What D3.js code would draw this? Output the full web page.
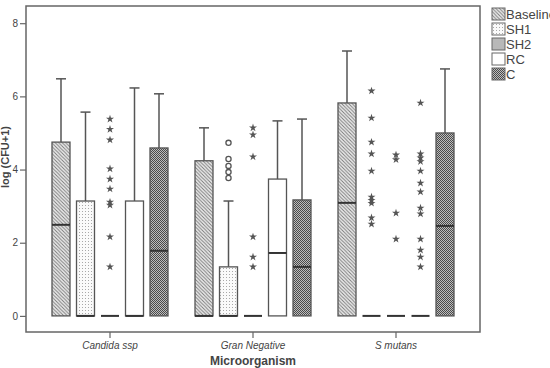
<!DOCTYPE html>
<html>
<head>
<meta charset="utf-8">
<script src="https://cdn.jsdelivr.net/npm/d3@7"></script>
<style>
  body { margin: 0; background: #fff; }
  text { font-family: "Liberation Sans", Arial, sans-serif; fill: #444; }
</style>
</head>
<body>
<div id="chart"></div>
<script>
// Categories and groups
const groups = ["Candida ssp", "Gran Negative", "S mutans"]
const series = ["Baseline", "SH1", "SH2", "RC", "C"]
const yTicks = [0, 2, 4, 6, 8]

// Box stats per group (order = series). Lower whisker and Q1 are all 0
const upperWhisker = [[6.48, 5.57, 0, 6.23, 6.07], [5.14, 3.14, 0, 5.33, 5.38], [7.24, 0, 0, 0, 6.75]]
const q3 = [[4.75, 3.14, 0, 3.14, 4.59], [4.24, 1.34, 0, 3.74, 3.17], [5.82, 0, 0, 0, 5.00]]
const medians = [[2.49, 0, 0, 0, 1.78], [0, 0, 0, 1.72, 1.34], [3.09, 0, 0, 0, 2.46]]
const q1 = [[0, 0, 0, 0, 0], [0, 0, 0, 0, 0], [0, 0, 0, 0, 0]]

// Outliers: [group, series, value] - stars are extreme, circles are mild
const starOutliers = [
  ["Candida ssp", "SH2", 5.38], ["Candida ssp", "SH2", 5.10], ["Candida ssp", "SH2", 4.81],
  ["Candida ssp", "SH2", 4.02], ["Candida ssp", "SH2", 3.74], ["Candida ssp", "SH2", 3.47],
  ["Candida ssp", "SH2", 3.11], ["Candida ssp", "SH2", 3.03], ["Candida ssp", "SH2", 2.16],
  ["Candida ssp", "SH2", 1.34],
  ["Gran Negative", "SH2", 5.14], ["Gran Negative", "SH2", 4.95], ["Gran Negative", "SH2", 4.35],
  ["Gran Negative", "SH2", 2.16], ["Gran Negative", "SH2", 1.61], ["Gran Negative", "SH2", 1.34],
  ["S mutans", "SH1", 6.15], ["S mutans", "SH1", 5.41], ["S mutans", "SH1", 4.75],
  ["S mutans", "SH1", 4.43], ["S mutans", "SH1", 3.96], ["S mutans", "SH1", 3.25],
  ["S mutans", "SH1", 3.16], ["S mutans", "SH1", 3.08], ["S mutans", "SH1", 2.68],
  ["S mutans", "SH1", 2.51],
  ["S mutans", "SH2", 4.40], ["S mutans", "SH2", 4.27], ["S mutans", "SH2", 2.81],
  ["S mutans", "SH2", 2.10],
  ["S mutans", "RC", 5.82], ["S mutans", "RC", 4.43], ["S mutans", "RC", 4.32],
  ["S mutans", "RC", 4.22], ["S mutans", "RC", 3.96], ["S mutans", "RC", 3.63],
  ["S mutans", "RC", 3.39], ["S mutans", "RC", 2.95], ["S mutans", "RC", 2.79],
  ["S mutans", "RC", 2.10], ["S mutans", "RC", 1.80], ["S mutans", "RC", 1.61],
  ["S mutans", "RC", 1.34]
]
const circleOutliers = [
  ["Gran Negative", "SH1", 4.73], ["Gran Negative", "SH1", 4.29], ["Gran Negative", "SH1", 4.10],
  ["Gran Negative", "SH1", 3.93], ["Gran Negative", "SH1", 3.77]
]

const width = 550, height = 368
const plot = {left: 26, right: 480, top: 6, bottom: 332}
const boxW = 18, capW = 10
const lineCol = "#555"

const svg = d3.select("#chart")
  .append("svg")
  .attr("width", width)
  .attr("height", height)

// ----------------- //
// Fill patterns
// ----------------- //
const defs = svg.append("defs")

const hatch = defs.append("pattern").attr("id", "p-Baseline")
  .attr("patternUnits", "userSpaceOnUse").attr("width", 3.5).attr("height", 3.5)
hatch.append("rect").attr("width", 3.5).attr("height", 3.5).attr("fill", "#ececec")
hatch.append("path").attr("d", "M-1,-1 L4.5,4.5 M-1,2.5 L1,4.5 M2.5,-1 L4.5,1")
  .attr("stroke", "#777").attr("stroke-width", 0.9)

const dots = defs.append("pattern").attr("id", "p-SH1")
  .attr("patternUnits", "userSpaceOnUse").attr("width", 3).attr("height", 3)
dots.append("rect").attr("width", 3).attr("height", 3).attr("fill", "#fafafa")
dots.append("rect").attr("x", 1).attr("y", 1).attr("width", 1).attr("height", 1).attr("fill", "#a8a8a8")

const solid = defs.append("pattern").attr("id", "p-SH2")
  .attr("patternUnits", "userSpaceOnUse").attr("width", 4).attr("height", 4)
solid.append("rect").attr("width", 4).attr("height", 4).attr("fill", "#b8b8b8")

const blank = defs.append("pattern").attr("id", "p-RC")
  .attr("patternUnits", "userSpaceOnUse").attr("width", 4).attr("height", 4)
blank.append("rect").attr("width", 4).attr("height", 4).attr("fill", "#fff")

const checker = defs.append("pattern").attr("id", "p-C")
  .attr("patternUnits", "userSpaceOnUse").attr("width", 2).attr("height", 2)
checker.append("rect").attr("width", 2).attr("height", 2).attr("fill", "#bdbdbd")
checker.append("rect").attr("width", 1).attr("height", 1).attr("fill", "#4a4a4a")
checker.append("rect").attr("x", 1).attr("y", 1).attr("width", 1).attr("height", 1).attr("fill", "#4a4a4a")

// ----------------- //
// Scales
// ----------------- //
const x = d3.scaleBand()
  .domain(groups)
  .range([38.5, 467.5])

const xInner = d3.scalePoint()
  .domain(series)
  .range([-49, 49])

const y = d3.scaleLinear()
  .domain([-0.44, 8.47])
  .range([plot.bottom, plot.top])

const cx = (g, s) => x(g) + x.bandwidth() / 2 + xInner(s)

// Frame
svg.append("rect")
  .attr("x", plot.left).attr("y", plot.top)
  .attr("width", plot.right - plot.left).attr("height", plot.bottom - plot.top)
  .attr("fill", "none").attr("stroke", "#666").attr("stroke-width", 1.5)

// Y axis
const yAxis = svg.append("g")
  .attr("transform", `translate(${plot.left},0)`)
  .call(d3.axisLeft(y).tickValues(yTicks).tickSize(6).tickPadding(2))
yAxis.select(".domain").remove()
yAxis.selectAll("line").attr("stroke", "#666").attr("stroke-width", 1.2)
yAxis.selectAll("text").attr("font-size", 10).attr("fill", "#666")
  .style("font-family", "'Liberation Sans', Arial, sans-serif")

// X axis
const xAxis = svg.append("g")
  .attr("transform", `translate(0,${plot.bottom})`)
  .call(d3.axisBottom(x).tickSize(6).tickPadding(4))
xAxis.select(".domain").remove()
xAxis.selectAll("line").attr("stroke", "#666").attr("stroke-width", 1.2)
xAxis.selectAll("text").attr("font-size", 10).attr("fill", "#555")
  .attr("font-style", "italic")
  .style("font-family", "'Liberation Sans', Arial, sans-serif")

// Axis titles
svg.append("text")
  .attr("transform", `translate(9,${(plot.top + plot.bottom) / 2 - 12}) rotate(-90)`)
  .attr("text-anchor", "middle")
  .attr("font-size", 11).attr("font-weight", "bold").attr("fill", "#333")
  .text("log (CFU+1)")

svg.append("text")
  .attr("x", x("Gran Negative") + x.bandwidth() / 2)
  .attr("y", 365)
  .attr("text-anchor", "middle")
  .attr("font-size", 12).attr("font-weight", "bold").attr("fill", "#222")
  .text("Microorganism")

// ------------------------------- //
// Boxes
// ------------------------------- //
groups.forEach((g, gi) => {
  series.forEach((s, si) => {
    const c = cx(g, s)
    const top = q3[gi][si], bot = q1[gi][si], hi = upperWhisker[gi][si], med = medians[gi][si]
    const box = svg.append("g")

    // upper whisker
    if (hi > top) {
      box.append("line")
        .attr("x1", c).attr("x2", c).attr("y1", y(top)).attr("y2", y(hi))
        .attr("stroke", lineCol).attr("stroke-width", 1.5)
      box.append("line")
        .attr("x1", c - capW / 2).attr("x2", c + capW / 2).attr("y1", y(hi)).attr("y2", y(hi))
        .attr("stroke", lineCol).attr("stroke-width", 1.5)
    }
    if (top > bot) {
      box.append("rect")
        .attr("x", c - boxW / 2).attr("width", boxW)
        .attr("y", y(top)).attr("height", y(bot) - y(top))
        .attr("fill", `url(#p-${s})`)
        .attr("stroke", lineCol).attr("stroke-width", 1.3)
    }
    // median
    box.append("line")
      .attr("x1", c - boxW / 2).attr("x2", c + boxW / 2)
      .attr("y1", y(med)).attr("y2", y(med))
      .attr("stroke", "#333").attr("stroke-width", 2)
  })
})

// Outliers
svg.selectAll(".star")
  .data(starOutliers)
  .join("path")
    .attr("class", "star")
    .attr("transform", d => `translate(${cx(d[0], d[1])},${y(d[2])})`)
    .attr("d", d3.symbol(d3.symbolStar, 20))
    .attr("fill", "#555")

svg.selectAll(".circ")
  .data(circleOutliers)
  .join("circle")
    .attr("class", "circ")
    .attr("cx", d => cx(d[0], d[1]))
    .attr("cy", d => y(d[2]))
    .attr("r", 2.6)
    .attr("fill", "none")
    .attr("stroke", "#555").attr("stroke-width", 1.3)

// ------------------------------- //
// Legend
// ------------------------------- //
const legend = svg.append("g").attr("transform", "translate(492,8)")
series.forEach((s, i) => {
  const row = legend.append("g").attr("transform", `translate(0,${i * 15})`)
  row.append("rect")
    .attr("width", 13).attr("height", 12)
    .attr("fill", `url(#p-${s})`)
    .attr("stroke", "#666").attr("stroke-width", 1)
  row.append("text")
    .attr("x", 14).attr("y", 11)
    .attr("font-size", 13).attr("fill", "#555")
    .text(s)
})
</script>
</body>
</html>
